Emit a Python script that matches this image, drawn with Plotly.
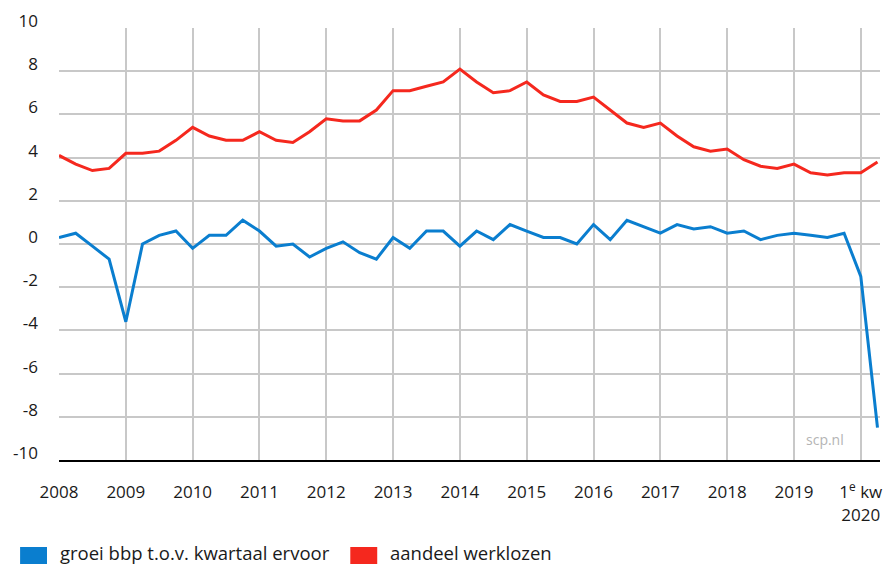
import plotly.graph_objects as go

# Quarterly data, 2008 Q1 .. 2020 Q2
quarter_index = list(range(50))

gdp_growth = [0.3, 0.5, -0.1, -0.7, -3.6, 0.0, 0.4, 0.6, -0.2, 0.4,
              0.4, 1.1, 0.6, -0.1, 0.0, -0.6, -0.2, 0.1, -0.4, -0.7,
              0.3, -0.2, 0.6, 0.6, -0.1, 0.6, 0.2, 0.9, 0.6, 0.3,
              0.3, 0.0, 0.9, 0.2, 1.1, 0.8, 0.5, 0.9, 0.7, 0.8,
              0.5, 0.6, 0.2, 0.4, 0.5, 0.4, 0.3, 0.5, -1.5, -8.5]

unemployment = [4.1, 3.7, 3.4, 3.5, 4.2, 4.2, 4.3, 4.8, 5.4, 5.0,
                4.8, 4.8, 5.2, 4.8, 4.7, 5.2, 5.8, 5.7, 5.7, 6.2,
                7.1, 7.1, 7.3, 7.5, 8.1, 7.5, 7.0, 7.1, 7.5, 6.9,
                6.6, 6.6, 6.8, 6.2, 5.6, 5.4, 5.6, 5.0, 4.5, 4.3,
                4.4, 3.9, 3.6, 3.5, 3.7, 3.3, 3.2, 3.3, 3.3, 3.8]

x_tick_vals = [0, 4, 8, 12, 16, 20, 24, 28, 32, 36, 40, 44, 48]
x_tick_text = ["2008", "2009", "2010", "2011", "2012", "2013", "2014",
               "2015", "2016", "2017", "2018", "2019", "1<sup>e</sup> kw<br>2020"]
y_tick_vals = [10, 8, 6, 4, 2, 0, -2, -4, -6, -8, -10]
y_tick_text = ["10", "8", "6", "4", "2", "0", "-2", "-4", "-6", "-8", "-10"]

series_names = ["groei bbp t.o.v. kwartaal ervoor", "aandeel werklozen"]
series_colors = ["#0a7ecf", "#f5281e"]

FONT = "Open Sans"
TXT = "#1a1a1a"

fig = go.Figure()
fig.add_trace(go.Scatter(x=quarter_index, y=gdp_growth, mode="lines",
                         name=series_names[0],
                         line=dict(color=series_colors[0], width=3),
                         showlegend=False))
fig.add_trace(go.Scatter(x=quarter_index, y=unemployment, mode="lines",
                         name=series_names[1],
                         line=dict(color=series_colors[1], width=3),
                         showlegend=False))

W, H = 884, 564
ml, mr, mt, mb = 59, 2, 28, 104
pw, ph = W - ml - mr, H - mt - mb

def px_x(p):
    return (p - ml) / pw

def px_y(p):
    return (H - mb - p) / ph

# legend drawn as squares + labels
legend_items = [(20, 47, 58), (351, 378, 389)]
for (x0, x1, tx), name, col in zip(legend_items, series_names, series_colors):
    fig.add_shape(type="rect", xref="paper", yref="paper",
                  x0=px_x(x0), x1=px_x(x1), y0=px_y(547), y1=px_y(572),
                  fillcolor=col, line=dict(width=0))
    fig.add_annotation(xref="paper", yref="paper", x=px_x(tx), y=px_y(552),
                       text=name, showarrow=False, xanchor="left", yanchor="middle",
                       font=dict(family=FONT, size=18.5, color=TXT))

fig.add_annotation(xref="paper", yref="paper", x=px_x(848), y=px_y(439),
                   text="scp.nl", showarrow=False, xanchor="right", yanchor="middle",
                   font=dict(family=FONT, size=14, color="#b4b4b4"))

fig.update_layout(
    width=W, height=H,
    margin=dict(l=ml, r=mr, t=mt, b=mb),
    paper_bgcolor="white", plot_bgcolor="white",
    font=dict(family=FONT, size=17, color=TXT),
    showlegend=False,
)
fig.update_xaxes(range=[0, 49.15], tickmode="array", tickvals=x_tick_vals,
                 ticktext=x_tick_text, showgrid=True, gridcolor="#c8c8c8",
                 gridwidth=1.5, zeroline=False, showline=True, linecolor="black",
                 linewidth=2, ticks="", ticklabelstandoff=16,
                 ticklabeloverflow="allow",
                 tickfont=dict(family=FONT, size=17, color=TXT))
fig.update_yaxes(range=[-10, 10], tickmode="array", tickvals=y_tick_vals,
                 ticktext=y_tick_text,
                 showgrid=True, gridcolor="#c8c8c8", gridwidth=1.5,
                 zeroline=False, showline=False, ticks="",
                 ticklabelstandoff=20, ticklabelshift=-7,
                 tickfont=dict(family=FONT, size=17, color=TXT))

fig.write_html("out.html",
               config={"displayModeBar": False},
               post_script="document.body.style.margin='0';"
                           "document.body.style.overflow='hidden';")
